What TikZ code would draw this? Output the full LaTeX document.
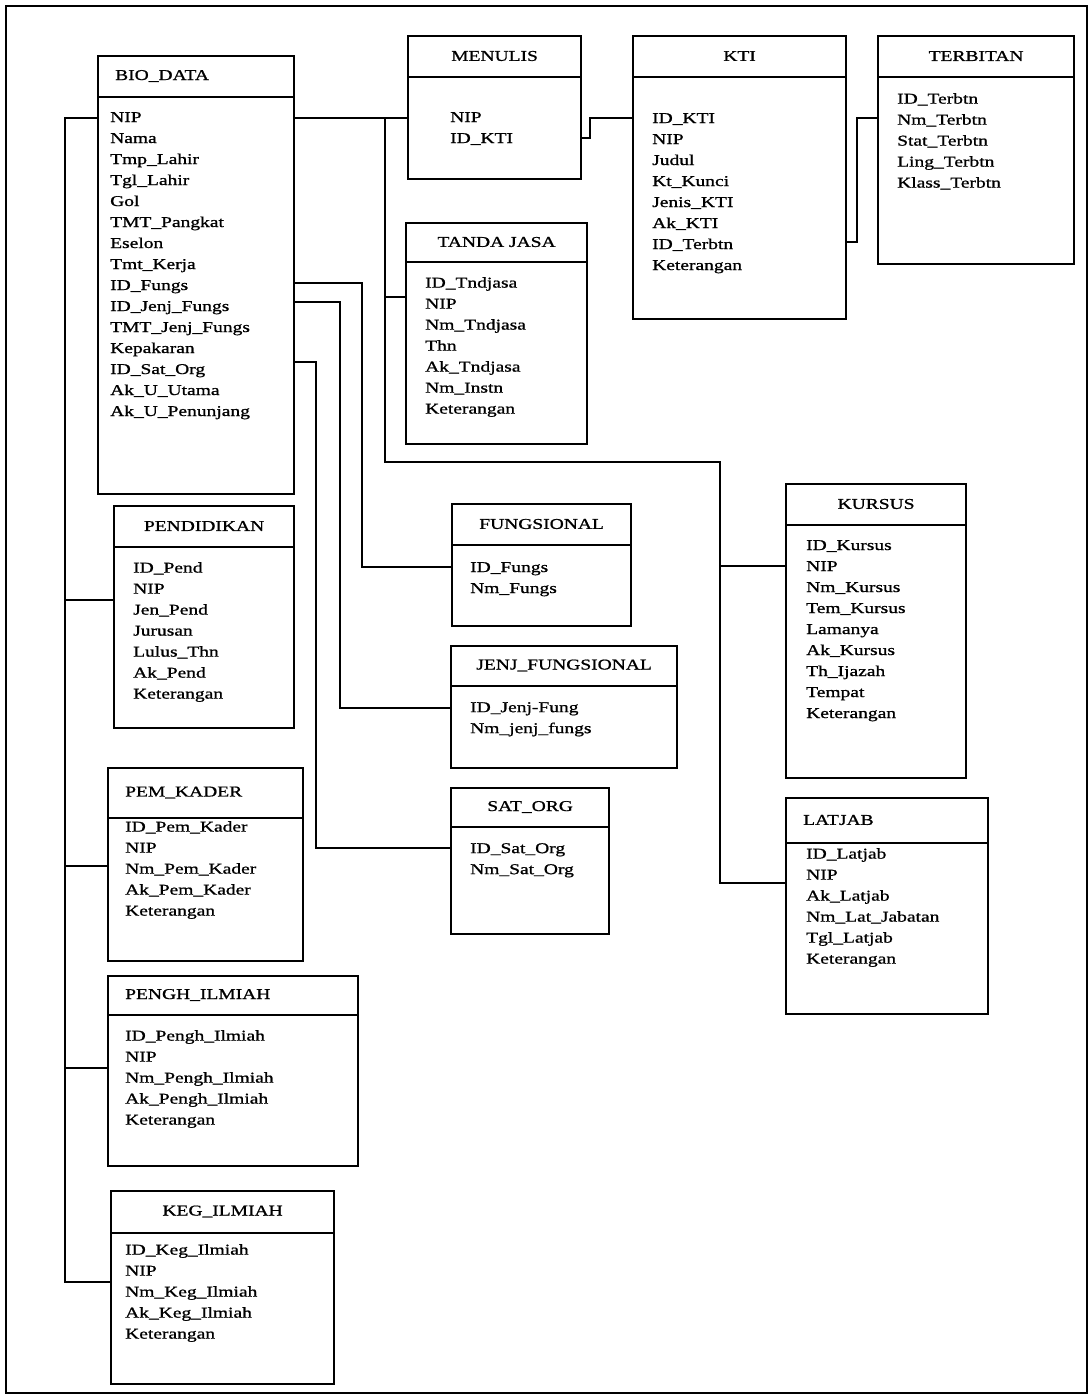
\documentclass[tikz,border=0pt]{standalone}
\usepackage{fontspec}
\setmainfont{Liberation Serif}[FakeStretch=1.3,FakeBold=1]
\usetikzlibrary{calc}
\tikzset{
  tabel/.style={draw,line width=2.2pt,inner sep=0pt,rectangle},
  garis/.style={line width=1.4pt},
  hubung/.style={line width=2.2pt},
  judul/.style={inner sep=0pt,font=\fontsize{15}{21}\selectfont},
  isi/.style={inner sep=0pt,anchor=north west,align=left,font=\fontsize{15}{21}\selectfont},
  posT/.style={anchor=center,at={($(#1.north)!.5!(#1.north |- #1-a)$)}},
  posL/.style={anchor=west,at={($(#1.north west)!.5!(#1-a)$)},xshift=18pt},
}
% tabel: [posisi judul]{nama}{kiri,atas}{lebar}{tinggi}{tinggi judul}{judul}{geser isi}{isi}
\newcommand{\tabel}[9][T]{%
  \node[tabel,minimum width=#4pt,minimum height=#5pt,anchor=north west] (#2) at (#3) {};
  \draw[garis] ([yshift=-#6pt]#2.north west) coordinate (#2-a) -- ([yshift=-#6pt]#2.north east);
  \node[judul,pos#1=#2] (#2-j) {#7};
  \node[isi] (#2-i) at ([shift={(#8)}]#2-a) {#9};
}
\begin{document}
\begin{tikzpicture}[x=1pt,y=-1pt]
\useasboundingbox (0,0) rectangle (1091,1398);
\draw[line width=1.8pt] (6,6) rectangle (1087,1393);% bingkai

\tabel[L]{bio}{97,55}{196}{438}{42}{BIO\_DATA}{13,15}{NIP\\Nama\\Tmp\_Lahir\\Tgl\_Lahir\\Gol\\TMT\_Pangkat\\Eselon\\Tmt\_Kerja\\ID\_Fungs\\ID\_Jenj\_Fungs\\TMT\_Jenj\_Fungs\\Kepakaran\\ID\_Sat\_Org\\Ak\_U\_Utama\\Ak\_U\_Penunjang}
\tabel{menulis}{407,35}{173}{143}{42}{MENULIS}{43,35}{NIP\\ID\_KTI}
\tabel{kti}{632,35}{213}{283}{42}{KTI}{20,36}{ID\_KTI\\NIP\\Judul\\Kt\_Kunci\\Jenis\_KTI\\Ak\_KTI\\ID\_Terbtn\\Keterangan}
\tabel{terbitan}{877,35}{196}{228}{42}{TERBITAN}{20,16}{ID\_Terbtn\\Nm\_Terbtn\\Stat\_Terbtn\\Ling\_Terbtn\\Klass\_Terbtn}
\tabel{tanda}{405,222}{181}{221}{40}{TANDA JASA}{20,15}{ID\_Tndjasa\\NIP\\Nm\_Tndjasa\\Thn\\Ak\_Tndjasa\\Nm\_Instn\\Keterangan}
\tabel{fung}{451,503}{179}{122}{42}{FUNGSIONAL}{19,17}{ID\_Fungs\\Nm\_Fungs}
\tabel{jenj}{450,645}{226}{122}{41}{JENJ\_FUNGSIONAL}{20,16}{ID\_Jenj-Fung\\Nm\_jenj\_fungs}
\tabel{sat}{450,787}{158}{146}{40}{SAT\_ORG}{20,16}{ID\_Sat\_Org\\Nm\_Sat\_Org}
\tabel{kursus}{785,483}{180}{294}{42}{KURSUS}{21,15}{ID\_Kursus\\NIP\\Nm\_Kursus\\Tem\_Kursus\\Lamanya\\Ak\_Kursus\\Th\_Ijazah\\Tempat\\Keterangan}
\tabel[L]{latjab}{785,797}{202}{216}{46}{LATJAB}{21,5}{ID\_Latjab\\NIP\\Ak\_Latjab\\Nm\_Lat\_Jabatan\\Tgl\_Latjab\\Keterangan}
\tabel{pend}{113,505}{180}{222}{42}{PENDIDIKAN}{20,15}{ID\_Pend\\NIP\\Jen\_Pend\\Jurusan\\Lulus\_Thn\\Ak\_Pend\\Keterangan}
\tabel[L]{pem}{107,767}{195}{193}{51}{PEM\_KADER}{18,3}{ID\_Pem\_Kader\\NIP\\Nm\_Pem\_Kader\\Ak\_Pem\_Kader\\Keterangan}
\tabel[L]{pengh}{107,975}{250}{190}{40}{PENGH\_ILMIAH}{18,15}{ID\_Pengh\_Ilmiah\\NIP\\Nm\_Pengh\_Ilmiah\\Ak\_Pengh\_Ilmiah\\Keterangan}
\tabel{keg}{110,1190}{223}{193}{43}{KEG\_ILMIAH}{15,11}{ID\_Keg\_Ilmiah\\NIP\\Nm\_Keg\_Ilmiah\\Ak\_Keg\_Ilmiah\\Keterangan}

% jalur kiri ke tabel bawah
\coordinate (bus1) at (65,118);
\coordinate (bus2) at (65,1282);
\draw[hubung] (bio.west |- bus1) -- (bus1) -- (bus2) -- (keg.west |- bus2);
\foreach \t/\y in {pend/600,pem/866,pengh/1068}
  \draw[hubung] (\t.west |- 0,\y) -- (bus1 |- 0,\y);

% jalur atas ke menulis, tanda jasa, kursus, latjab
\coordinate (t1) at (385,118);
\coordinate (t2) at (385,462);
\coordinate (t3) at (720,462);
\coordinate (t4) at (720,883);
\draw[hubung] (bio.east |- t1) -- (menulis.west |- t1);
\draw[hubung] (t1) -- (t2) -- (t3) -- (t4) -- (latjab.west |- t4);
\draw[hubung] (t1 |- 0,297) -- (tanda.west |- 0,297);
\draw[hubung] (t3 |- 0,566) -- (kursus.west |- 0,566);

% kunci ke tabel referensi
\draw[hubung] (bio.east |- 0,283) -| (362,567) -- (fung.west |- 0,567);
\draw[hubung] (bio.east |- 0,302) -| (340,708) -- (jenj.west |- 0,708);
\draw[hubung] (bio.east |- 0,362) -| (316,848) -- (sat.west |- 0,848);
\draw[hubung] (menulis.east |- 0,138) -| (590,118) -- (kti.west |- 0,118);
\draw[hubung] (kti.east |- 0,242) -| (857,118) -- (terbitan.west |- 0,118);
\end{tikzpicture}
\end{document}
